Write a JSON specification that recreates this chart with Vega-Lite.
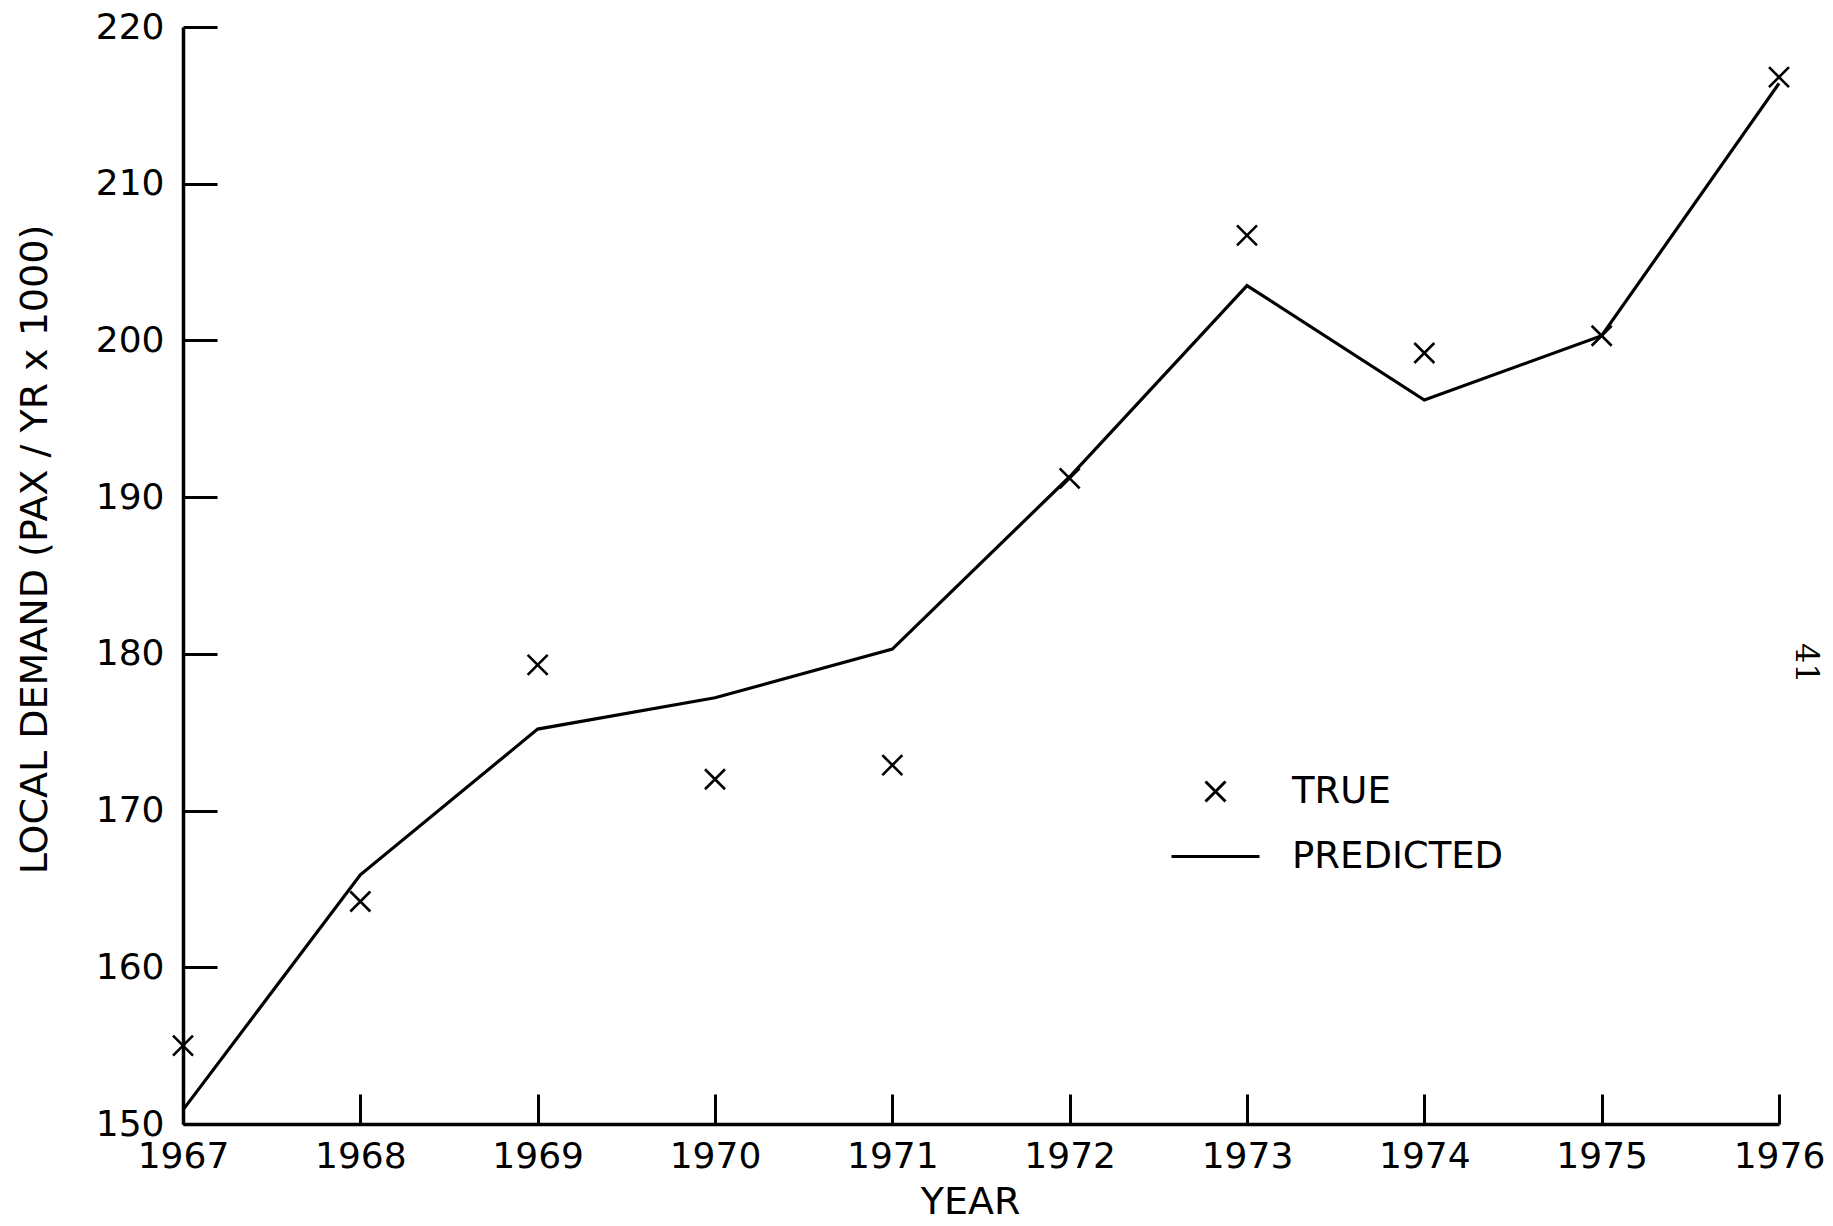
{
  "$schema": "https://vega.github.io/schema/vega-lite/v6.json",
  "width": 1596,
  "height": 1097,
  "autosize": {"type": "none"},
  "padding": {"left": 183, "top": 27, "right": 54, "bottom": 102},
  "background": "white",
  "config": {
    "view": {"stroke": null},
    "font": "DejaVu Sans",
    "axis": {
      "domainColor": "black",
      "domainWidth": 3.5,
      "tickColor": "black",
      "tickWidth": 3,
      "labelColor": "black",
      "titleColor": "black",
      "labelFont": "DejaVu Sans",
      "titleFont": "DejaVu Sans",
      "labelFontSize": 36,
      "titleFontSize": 38,
      "titleFontWeight": "normal",
      "grid": false
    }
  },
  "datasets": {
    "predicted": [
      {"year": 1967, "demand": 150.9},
      {"year": 1968, "demand": 165.9},
      {"year": 1969, "demand": 175.2},
      {"year": 1970, "demand": 177.2},
      {"year": 1971, "demand": 180.3},
      {"year": 1972, "demand": 191.3},
      {"year": 1973, "demand": 203.5},
      {"year": 1974, "demand": 196.2},
      {"year": 1975, "demand": 200.3},
      {"year": 1976, "demand": 216.4}
    ],
    "true": [
      {"year": 1967, "demand": 155.0, "series": "TRUE"},
      {"year": 1968, "demand": 164.2, "series": "TRUE"},
      {"year": 1969, "demand": 179.3, "series": "TRUE"},
      {"year": 1970, "demand": 172.0, "series": "TRUE"},
      {"year": 1971, "demand": 172.9, "series": "TRUE"},
      {"year": 1972, "demand": 191.2, "series": "TRUE"},
      {"year": 1973, "demand": 206.7, "series": "TRUE"},
      {"year": 1974, "demand": 199.2, "series": "TRUE"},
      {"year": 1975, "demand": 200.3, "series": "TRUE"},
      {"year": 1976, "demand": 216.8, "series": "TRUE"}
    ],
    "page": [
      {"year": 1976.15, "demand": 179.4, "label": "41"}
    ]
  },
  "encoding": {
    "x": {
      "field": "year",
      "type": "quantitative",
      "scale": {"domain": [1967, 1976], "nice": false, "zero": false},
      "axis": {
        "values": [1967, 1968, 1969, 1970, 1971, 1972, 1973, 1974, 1975, 1976],
        "format": "d",
        "tickSize": -30,
        "labelPadding": 45,
        "labelFlush": false,
        "title": "YEAR",
        "titleX": 787,
        "titleY": 78,
        "titleBaseline": "middle"
      }
    },
    "y": {
      "field": "demand",
      "type": "quantitative",
      "scale": {"domain": [150, 220], "nice": false, "zero": false},
      "axis": {
        "values": [150, 160, 170, 180, 190, 200, 210, 220],
        "tickSize": -34,
        "labelPadding": 53,
        "labelFlush": false,
        "title": "LOCAL DEMAND (PAX / YR x 1000)",
        "titleX": -148,
        "titleY": 522,
        "titleBaseline": "middle"
      }
    }
  },
  "layer": [
    {
      "data": {"name": "predicted"},
      "mark": {"type": "line", "color": "black", "strokeWidth": 3.2}
    },
    {
      "data": {"name": "true"},
      "mark": {"type": "point", "filled": false, "color": "black", "strokeWidth": 2.6, "size": 1600, "opacity": 1},
      "encoding": {
        "shape": {
          "field": "series",
          "type": "nominal",
          "scale": {
            "domain": ["TRUE", "PREDICTED"],
            "range": ["M-0.5,-0.5L0.5,0.5M-0.5,0.5L0.5,-0.5", "M-2.2,0L2.2,0"]
          },
          "legend": {
            "orient": "none",
            "legendX": 1011,
            "legendY": 743,
            "title": null,
            "labelFontSize": 37,
            "labelFont": "DejaVu Sans",
            "labelColor": "black",
            "labelLimit": 400,
            "symbolStrokeColor": "black",
            "symbolStrokeWidth": 3,
            "symbolSize": 1600,
            "labelOffset": 55,
            "rowPadding": 25,
            "padding": 0
          }
        }
      }
    },
    {
      "data": {"name": "page"},
      "mark": {"type": "text", "angle": 90, "font": "DejaVu Serif", "fontSize": 32, "color": "black", "clip": false},
      "encoding": {"text": {"field": "label"}}
    }
  ]
}
